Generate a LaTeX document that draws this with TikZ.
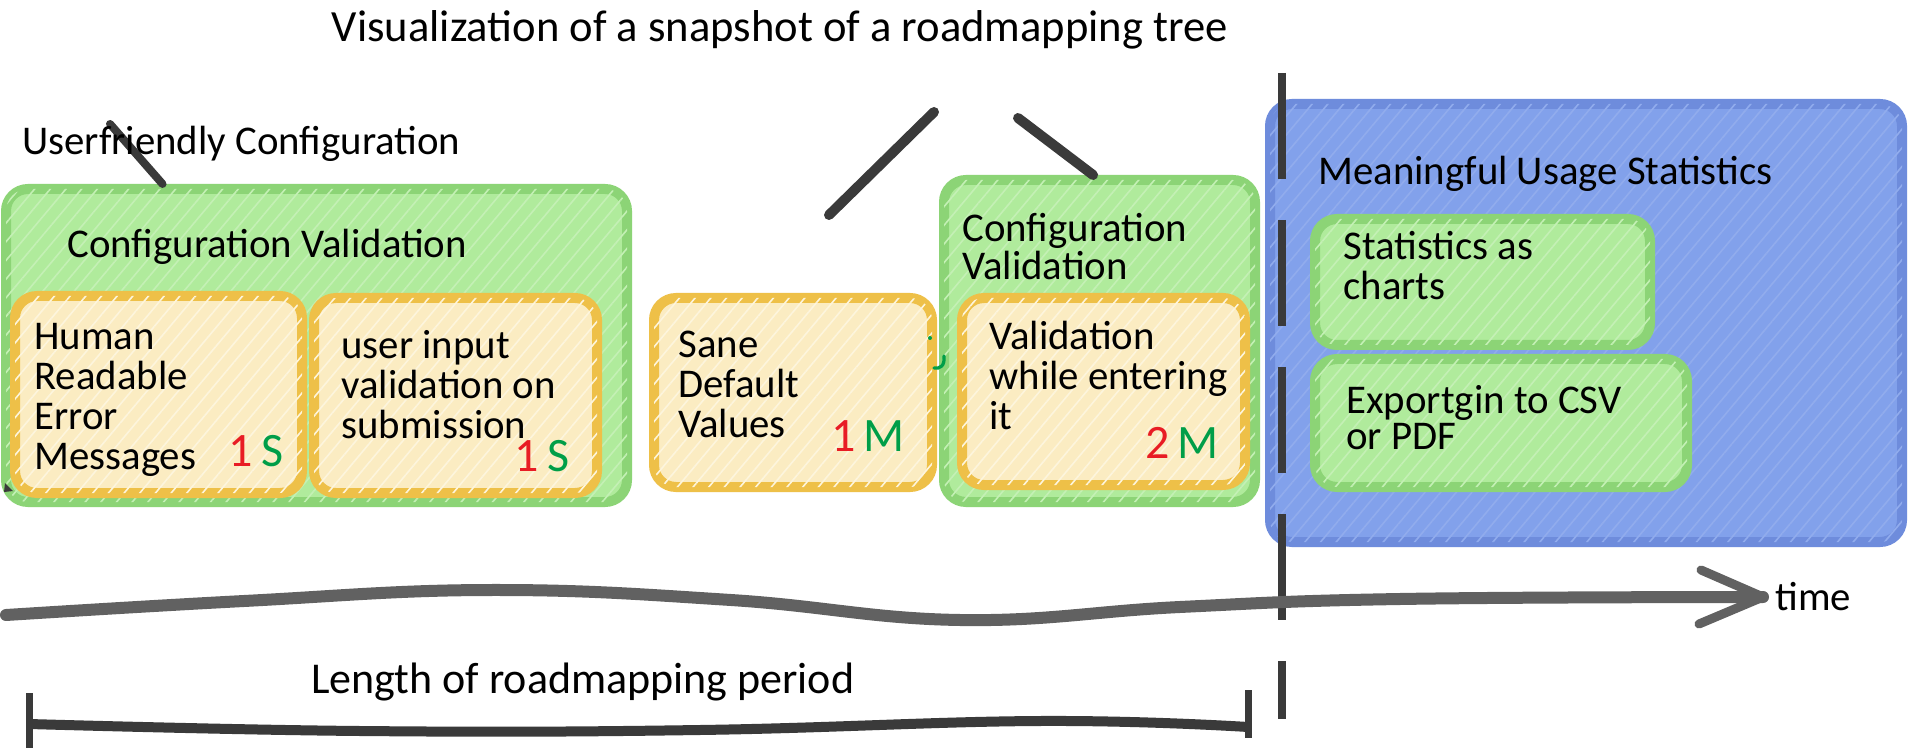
\documentclass[tikz,border=0pt]{standalone}
\usepackage{fontspec}
\setmainfont{Carlito}
\usetikzlibrary{fit,calc,patterns.meta}
\definecolor{gfill}{RGB}{176,235,156}
\definecolor{gline}{RGB}{140,212,118}
\definecolor{yfill}{RGB}{251,236,194}
\definecolor{yline}{RGB}{238,192,72}
\definecolor{bfill}{RGB}{130,161,235}
\definecolor{bline}{RGB}{110,140,220}
\definecolor{dark}{RGB}{58,58,58}
\definecolor{numred}{RGB}{232,28,36}
\definecolor{numgreen}{RGB}{0,158,72}
\begin{document}
\begin{tikzpicture}[x=0.5pt,y=-0.5pt,
  box/.style={line width=5pt, rounded corners=11pt, inner sep=0pt},
  hatch/.style={postaction={pattern={Lines[angle=50,distance=6pt,line width=0.8pt]}, pattern color=#1}},
  greenbox/.style={box, draw=gline, fill=gfill, hatch=gfill!75!white},
  yellowbox/.style={box, draw=yline, fill=yfill, hatch=yfill!55!white},
  bluebox/.style={box, draw=bline, fill=bfill, hatch=bfill!88!white},
  lbl/.style={font=\fontsize{20.4}{20}\selectfont, align=left, inner sep=0pt, anchor=west},
  sizelbl/.style={font=\fontsize{24}{24}\selectfont, inner sep=0pt},
  stroke/.style={draw=dark, line width=5pt, line cap=round},
]
\useasboundingbox (0,0) rectangle (1910,753);
\fill[white] (0,0) rectangle (1910,753);

% boxes
\node[greenbox, fit={(6,189) (627,502)}] (cv1) {};
\node[yellowbox, fit={(15,296) (302,493)}] (hre) {};
\node[yellowbox, fit={(314,298) (597,493)}] (uiv) {};
\node[yellowbox, fit={(654,298) (932,487)}] (sdv) {};
\node[greenbox, fit={(944,180) (1255,502)}] (cv2) {};
\node[yellowbox, fit={(962,298) (1245,485)}] (vwe) {};
\node[bluebox, fit={(1270,104) (1902,542)}] (mus) {};
\node[greenbox, fit={(1315,219) (1650,345)}] (sac) {};
\node[greenbox, fit={(1315,359) (1687,487)}] (exp) {};

% tree strokes
\coordinate (ucE) at (110,124);
\draw[stroke, line width=4pt] (ucE) -- ($(cv1.north west)!0.256!(cv1.north east)$);
\coordinate (m1a) at (934,112);
\coordinate (m1b) at (829,215);
\draw[stroke] (m1a) -- (m1b);
\coordinate (m2a) at (1018,118);
\draw[stroke] (m2a) -- ($(cv2.north west)!0.48!(cv2.north east)$);
\fill[dark] (5,483) -- (13,491) -- (4,492) -- cycle;

% green mark
\draw[numgreen, line width=1.6pt, line cap=round] (944,356) .. controls (945,366) and (940,369) .. (934,368);
\fill[numgreen] (930,338) circle (2);

% dashed separator
\coordinate (dTop) at (1282,73);
\coordinate (dBot) at (1282,719);
\draw[draw=dark, line width=4pt, dash pattern=on 53pt off 20.5pt] (dTop) -- (dBot);

% texts
\node[lbl, font=\fontsize{22.3}{22}\selectfont, anchor=center] (title) at (780,30) {Visualization of a snapshot of a roadmapping tree};
\node[lbl] (uct) at (22,144) {Userfriendly Configuration};
\node[lbl] (cv1t) at (67,247) {Configuration Validation};
\node[lbl] (hret) at (34,400) {Human\\Readable\\Error\\Messages};
\node[lbl] (uivt) at (341,385) {user input\\validation on\\submission};
\node[lbl] (sdvt) at (678,384) {Sane\\Default\\Values};
\node[lbl, font=\fontsize{20.4}{19}\selectfont] (cv2t) at (962,247) {Configuration\\Validation};
\node[lbl] (vwet) at (989,375) {Validation\\while entering\\it};
\node[lbl] (must) at (1318,174) {Meaningful Usage Statistics};
\node[lbl] (sact) at (1343,266) {Statistics as\\charts};
\node[lbl, font=\fontsize{20.4}{18}\selectfont] (expt) at (1346,418) {Exportgin to CSV\\or PDF};

\node[sizelbl] (hres) at (256,451) {\textcolor{numred}{1}\hspace{4pt}\textcolor{numgreen}{S}};
\node[sizelbl] (uivs) at (542,456) {\textcolor{numred}{1}\hspace{4pt}\textcolor{numgreen}{S}};
\node[sizelbl] (sdvs) at (868,436) {\textcolor{numred}{1}\hspace{4pt}\textcolor{numgreen}{M}};
\node[sizelbl] (vwes) at (1182,443) {\textcolor{numred}{2}\hspace{4pt}\textcolor{numgreen}{M}};

% time axis
\coordinate (axL) at (6,615);
\coordinate (tip) at (1763,597);
\draw[stroke, draw=dark!80, line width=6pt] plot[smooth, tension=0.7] coordinates {(axL) (244,601) (490,590) (731,600) (960,620) (1180,607) (1400,599) (tip)};
\draw[stroke, draw=dark!80, line width=4.5pt, line join=round] ($(tip)+(-62,-27)$) -- (tip) -- ($(tip)+(-64,27)$);
\node[lbl] (time) at (1775,597) {time};

% period bar
\coordinate (pL) at (29,724);
\coordinate (pR) at (1248,727);
\draw[stroke, line width=5pt, line cap=butt] plot[smooth, tension=0.7] coordinates {(pL) (360,731) (700,730) (1040,721) (pR)};
\draw[stroke, line width=3.5pt, line cap=butt] ($(pL)+(0,-31)$) -- ($(pL)+(0,24)$);
\draw[stroke, line width=3.5pt, line cap=butt] ($(pR)+(0,-37)$) -- ($(pR)+(0,11)$);
\node[lbl, font=\fontsize{22}{22}\selectfont] (period) at (311,682) {Length of roadmapping period};
\end{tikzpicture}
\end{document}
